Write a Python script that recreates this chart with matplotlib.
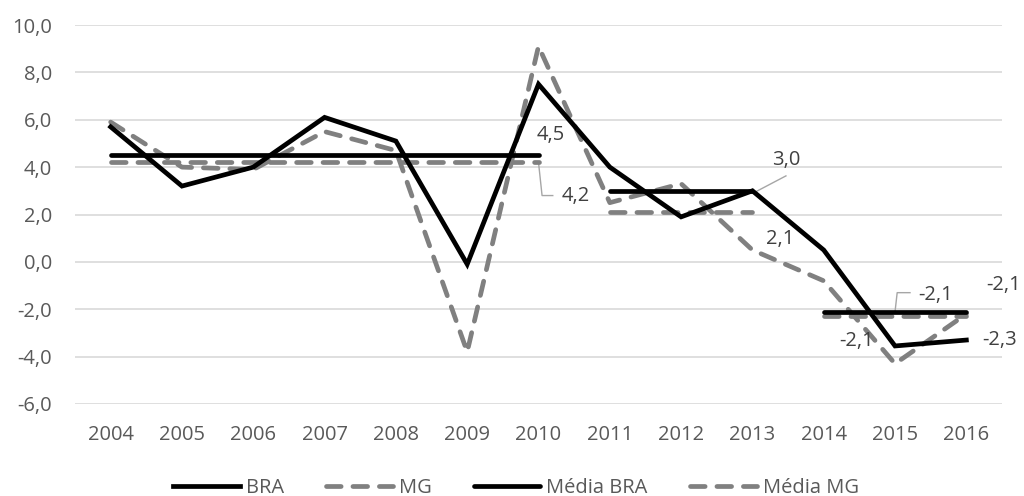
import numpy as np
import matplotlib
matplotlib.use("Agg")
import matplotlib.pyplot as plt

plt.rcParams['font.family'] = ['Open Sans', 'DejaVu Sans']

anos = ['2004', '2005', '2006', '2007', '2008', '2009', '2010',
        '2011', '2012', '2013', '2014', '2015', '2016']
bra = [5.7, 3.2, 4.0, 6.1, 5.1, -0.1, 7.5, 4.0, 1.9, 3.0, 0.5, -3.55, -3.3]
mg = [5.9, 4.0, 3.9, 5.5, 4.7, -3.8, 9.1, 2.5, 3.3, 0.5, -0.8, -4.3, -2.2]
periodo = [0, 0, 0, 0, 0, 0, 0, 1, 1, 1, 2, 2, 2]
media_bra = [4.5, 3.0, -2.1]
media_mg = [4.2, 2.1, -2.3]

cinza = '#808080'
texto = '#595959'
rotulo = '#404040'
lw = 3.4
tracos = (0, (3.1, 2.5))
fs = 14.5

fig = plt.figure(figsize=(10.24, 4.96), dpi=100)
ax = fig.add_axes([75 / 1024, 1 - 404 / 496, 927 / 1024, 379 / 496])

x = np.arange(len(anos))
per = np.array(periodo)

ax.plot(x, bra, color='black', lw=lw, solid_joinstyle='miter', label='BRA', zorder=4)
ax.plot(x, mg, color=cinza, lw=lw, ls=tracos, dash_capstyle='round',
        label='MG', zorder=3)
for i in range(3):
    xs = x[per == i]
    ax.plot(xs, [media_bra[i]] * len(xs), color='black', lw=lw, solid_capstyle='round',
            label='Média BRA' if i == 0 else None, zorder=5)
    ax.plot(xs, [media_mg[i]] * len(xs), color=cinza, lw=lw, ls=tracos,
            dash_capstyle='round', label='Média MG' if i == 0 else None, zorder=3)

ax.set_xlim(-0.5, len(anos) - 0.5)
ax.set_ylim(-6, 10)
yt = np.arange(-6, 11, 2)
ax.set_yticks(yt)
ax.set_yticklabels([('%.1f' % v).replace('.', ',') for v in yt])
ax.set_xticks(x)
ax.set_xticklabels(anos)
ax.grid(axis='y', color='#d9d9d9', lw=1.2)
ax.set_axisbelow(True)
for s in ax.spines.values():
    s.set_visible(False)
ax.tick_params(length=0, labelsize=fs, colors=texto)
ax.tick_params(axis='x', pad=15)
ax.tick_params(axis='y', pad=16.5)

# rótulos de dados
guia = '#a6a6a6'
ax.text(5.97, 5.35, '4,5', fontsize=fs, color=rotulo, ha='left', va='center')
ax.text(6.33, 2.78, '4,2', fontsize=fs, color=rotulo, ha='left', va='center')
ax.plot([6.0, 6.05, 6.2], [4.2, 2.8, 2.8], color=guia, lw=1)
ax.text(9.28, 4.3, '3,0', fontsize=fs, color=rotulo, ha='left', va='center')
ax.plot([9.04, 9.47], [2.95, 3.63], color=guia, lw=1)
ax.text(9.19, 0.97, '2,1', fontsize=fs, color=rotulo, ha='left', va='center')
ax.plot([11.0, 11.03, 11.21], [-2.1, -1.3, -1.3], color=guia, lw=1)
ax.text(11.32, -1.39, '-2,1', fontsize=fs, color=rotulo, ha='left', va='center')
ax.text(10.22, -3.33, '-2,1', fontsize=fs, color=rotulo, ha='left', va='center')
ax.text(12.28, -0.97, '-2,1', fontsize=fs, color=rotulo, ha='left', va='center', clip_on=False)
ax.text(12.23, -3.3, '-2,3', fontsize=fs, color=rotulo, ha='left', va='center', clip_on=False)

leg = fig.legend(loc='center', bbox_to_anchor=(516 / 1024, 1 - 488 / 496), ncol=4, frameon=False,
                 handlelength=3.3, columnspacing=2.1, handletextpad=0.3, fontsize=fs,
                 borderpad=0, borderaxespad=0)
for t in leg.get_texts():
    t.set_color(texto)

fig.savefig('out.png', dpi=100)
